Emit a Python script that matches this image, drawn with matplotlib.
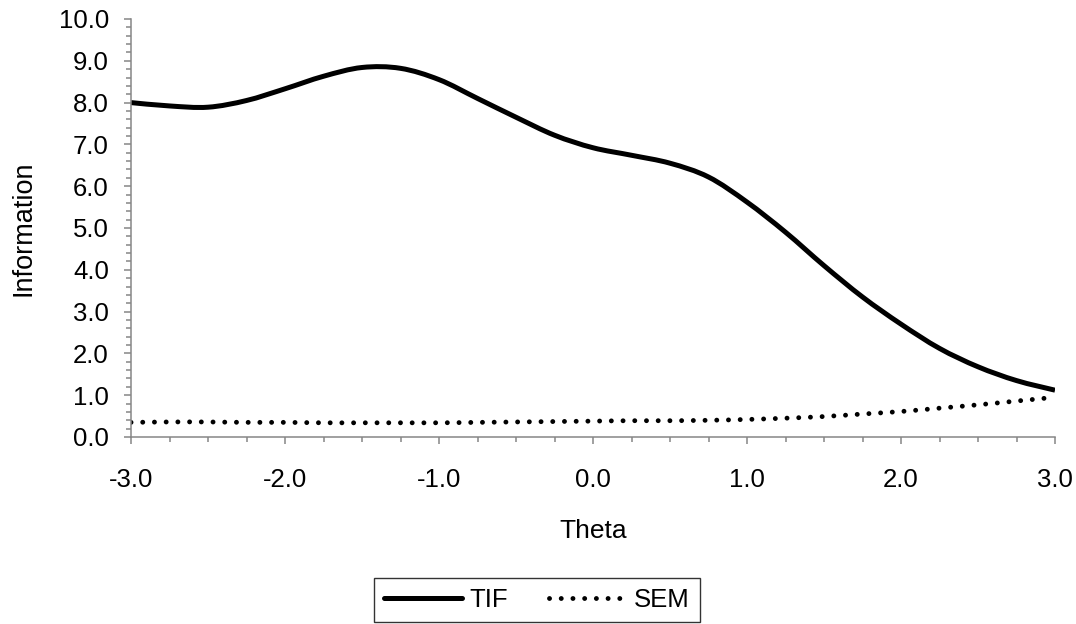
import numpy as np
import matplotlib.pyplot as plt
from matplotlib.ticker import MultipleLocator, FormatStrFormatter
from matplotlib.path import Path
from matplotlib.patches import PathPatch
from matplotlib.lines import Line2D

# Data
theta = [-3.0, -2.75, -2.5, -2.25, -2.0, -1.75, -1.5, -1.25, -1.0, -0.75, -0.5, -0.25,
         0.0, 0.25, 0.5, 0.75, 1.0, 1.25, 1.5, 1.75, 2.0, 2.25, 2.5, 2.75, 3.0]
tif = [8.00, 7.92, 7.89, 8.05, 8.33, 8.63, 8.84, 8.82, 8.55, 8.10, 7.65, 7.22,
       6.92, 6.74, 6.55, 6.22, 5.62, 4.90, 4.10, 3.35, 2.70, 2.12, 1.68, 1.35, 1.12]
sem = [0.35, 0.36, 0.36, 0.35, 0.35, 0.34, 0.34, 0.34, 0.34, 0.35, 0.36, 0.37,
       0.38, 0.39, 0.39, 0.40, 0.42, 0.45, 0.49, 0.55, 0.61, 0.69, 0.77, 0.86, 0.95]


def smooth_path(x, y):
    # Excel-style smoothed line: cubic bezier segments through the data points
    p = np.column_stack([x, y]).astype(float)
    verts = [p[0]]
    codes = [Path.MOVETO]
    n = len(p)
    for i in range(n - 1):
        p0 = p[max(i - 1, 0)]
        p1 = p[i]
        p2 = p[i + 1]
        p3 = p[min(i + 2, n - 1)]
        verts += [p1 + (p2 - p0) / 6, p2 - (p3 - p1) / 6, p2]
        codes += [Path.CURVE4] * 3
    return Path(verts, codes)


plt.rcParams['font.family'] = ['Liberation Sans', 'DejaVu Sans']
fs = 18.5
gray = '#868686'
dots = (0, (0.01, 2.4))

fig = plt.figure(figsize=(10.76, 6.24), dpi=100)
ax = fig.add_axes([131/1076, 1-437/624, (1055-131)/1076, (437-19)/624])

ax.add_patch(PathPatch(smooth_path(theta, tif), fill=False, edgecolor='black',
                       lw=3.6, capstyle='butt'))
ax.add_patch(PathPatch(smooth_path(theta, sem), fill=False, edgecolor='black',
                       lw=3.5, linestyle=dots, capstyle='round'))

ax.set_xlim(-3, 3)
ax.set_ylim(0, 10)
ax.xaxis.set_major_locator(MultipleLocator(1.0))
ax.xaxis.set_minor_locator(MultipleLocator(0.25))
ax.yaxis.set_major_locator(MultipleLocator(1.0))
ax.yaxis.set_minor_locator(MultipleLocator(0.2))
ax.xaxis.set_major_formatter(FormatStrFormatter('%.1f'))
ax.yaxis.set_major_formatter(FormatStrFormatter('%.1f'))

for s in ['top', 'right']:
    ax.spines[s].set_visible(False)
for s in ['left', 'bottom']:
    ax.spines[s].set_color(gray)
    ax.spines[s].set_linewidth(1.1)

ax.tick_params(which='major', direction='out', length=5, width=1.1, color=gray, labelsize=fs)
ax.tick_params(which='minor', direction='out', length=3.4, width=1.1, color=gray)
ax.tick_params(axis='x', which='major', pad=17)
ax.tick_params(axis='y', which='major', pad=11)

ax.set_xlabel('Theta', fontsize=19, labelpad=20)
ax.set_ylabel('Information', fontsize=19.5, labelpad=16)

handles = [Line2D([], [], color='black', lw=3.6, solid_capstyle='round'),
           Line2D([], [], color='black', lw=3.5, linestyle=dots, dash_capstyle='round')]
leg = fig.legend(handles, ['TIF', 'SEM'], loc='center', bbox_to_anchor=(537/1076, 1-600/624),
                 ncol=2, fontsize=fs, frameon=True, fancybox=False, handlelength=3.0,
                 handletextpad=0.3, columnspacing=1.6, borderpad=0.4, borderaxespad=0)
leg.get_frame().set_edgecolor('black')
leg.get_frame().set_linewidth(1.0)

fig.savefig('out.png', dpi=100)
